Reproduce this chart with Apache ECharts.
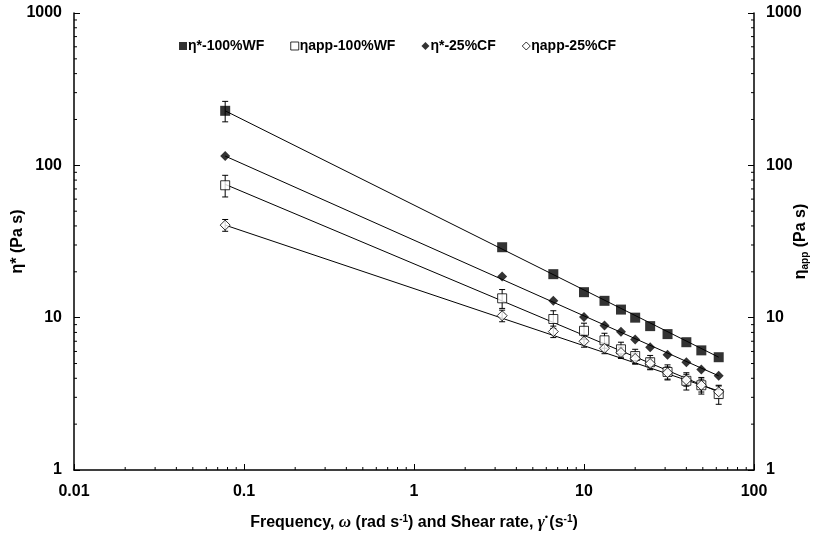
<!DOCTYPE html>
<html>
<head>
<meta charset="utf-8">
<script src="https://cdn.jsdelivr.net/npm/echarts@6/dist/echarts.min.js"></script>
<style>
  html, body { margin: 0; padding: 0; background: #fff; }
  #chart { width: 816px; height: 540px; }
</style>
</head>
<body>
<div id="chart"></div>
<script>
// 频率 / 剪切速率 (rad/s, 1/s)
var freq = [0.0775, 3.3, 6.6, 10, 13.2, 16.5, 20, 24.5, 31, 40, 49, 62];

// 粘度数据 (Pa s)
var etaStarWF = [228, 29.0, 19.3, 14.7, 12.9, 11.3, 10.0, 8.8, 7.8, 6.9, 6.1, 5.5];
var etaAppWF  = [74, 13.4, 9.8, 8.2, 7.1, 6.2, 5.6, 5.1, 4.4, 3.85, 3.6, 3.15];
var etaStarCF = [115, 18.6, 12.9, 10.1, 8.9, 8.07, 7.2, 6.4, 5.7, 5.1, 4.57, 4.15];
var etaAppCF  = [40.5, 10.3, 8.1, 7.0, 6.3, 5.9, 5.4, 5.0, 4.35, 3.9, 3.6, 3.26];

// 误差 (±)
var errStarWF = [35, 0, 0, 0, 0, 0, 0, 0, 0, 0, 0, 0];
var errAppWF  = [12, 1.9, 1.3, 1.0, 0.8, 0.7, 0.6, 0.55, 0.5, 0.5, 0.45, 0.45];
var errAppCF  = [3.6, 0.9, 0.7, 0.6, 0.5, 0.5, 0.45, 0.4, 0.4, 0.35, 0.35, 0.3];

// 趋势线端点 (幂律拟合)
var fitX      = [0.0775, 62];
var fitStarWF = [228, 5.5];
var fitAppWF  = [75, 3.25];
var fitStarCF = [115, 4.15];
var fitAppCF  = [40.5, 3.3];

var names = ['η*-100%WF', 'ηapp-100%WF', 'η*-25%CF', 'ηapp-25%CF'];
var xTicks = [0.01, 0.1, 1, 10, 100];
var yTicks = [1, 10, 100, 1000];
var minorSteps = [2, 3, 4, 5, 6, 7, 8, 9];

var FONT = '"Liberation Sans", Arial, sans-serif';

function pairs(xs, ys) {
  return xs.map(function (x, i) { return [x, ys[i]]; });
}

// 误差棒数据
function errData(ys, errs) {
  var out = [];
  freq.forEach(function (x, i) {
    if (errs[i] > 0) out.push([x, ys[i], ys[i] - errs[i], ys[i] + errs[i]]);
  });
  return out;
}

// 次刻度 (对数坐标 2..9)
var minorData = [];
for (var d = 0; d < xTicks.length - 1; d++) {
  minorSteps.forEach(function (m) { minorData.push([xTicks[d] * m, 1, 0]); });
}
for (var e = 0; e < yTicks.length - 1; e++) {
  minorSteps.forEach(function (m) {
    minorData.push([0.01, yTicks[e] * m, 1]);
    minorData.push([100, yTicks[e] * m, 2]);
  });
}

var chart = echarts.init(document.getElementById('chart'));

var labelStyle = {
  color: '#000', fontWeight: 'bold', fontSize: 16, fontFamily: FONT,
  formatter: function (v) { return String(v); }
};

function errSeries(ys, errs) {
  return {
    type: 'custom',
    z: 3,
    silent: true,
    data: errData(ys, errs),
    renderItem: function (params, api) {
      var x = api.value(0);
      var lo = api.coord([x, api.value(2)]);
      var hi = api.coord([x, api.value(3)]);
      var w = 3;
      var st = { stroke: '#000', lineWidth: 1 };
      return {
        type: 'group',
        children: [
          { type: 'line', shape: { x1: lo[0], y1: lo[1], x2: hi[0], y2: hi[1] }, style: st },
          { type: 'line', shape: { x1: lo[0] - w, y1: lo[1], x2: lo[0] + w, y2: lo[1] }, style: st },
          { type: 'line', shape: { x1: hi[0] - w, y1: hi[1], x2: hi[0] + w, y2: hi[1] }, style: st }
        ]
      };
    }
  };
}

function fitSeries(ys) {
  return {
    type: 'line',
    data: pairs(fitX, ys),
    symbol: 'none',
    silent: true,
    z: 2,
    lineStyle: { color: '#000', width: 1 }
  };
}

function markSeries(name, ys, symbol, size, filled) {
  return {
    name: name,
    type: 'scatter',
    data: pairs(freq, ys),
    symbol: symbol,
    symbolSize: size,
    z: 5,
    itemStyle: filled
      ? { color: '#000', borderColor: '#000', borderWidth: 0 }
      : { color: '#fff', borderColor: '#000', borderWidth: 1 }
  };
}

var option = {
  animation: false,
  backgroundColor: '#fff',
  grid: { left: 74, right: 62, top: 13, bottom: 70, outerBoundsMode: 'none' },
  legend: {
    left: 174,
    top: 34,
    itemWidth: 8,
    itemHeight: 8,
    itemGap: 26,
    textStyle: { color: '#000', fontWeight: 'bold', fontSize: 14, fontFamily: FONT, padding: [0, 0, 0, -4] },
    data: [
      { name: names[0], icon: 'rect', itemStyle: { color: '#000', borderWidth: 0 } },
      { name: names[1], icon: 'rect', itemStyle: { color: '#fff', borderColor: '#000', borderWidth: 1 } },
      { name: names[2], icon: 'diamond', itemStyle: { color: '#000', borderWidth: 0 } },
      { name: names[3], icon: 'diamond', itemStyle: { color: '#fff', borderColor: '#000', borderWidth: 1 } }
    ]
  },
  xAxis: {
    type: 'log',
    logBase: 10,
    min: 0.01,
    max: 100,
    axisLine: { show: true, lineStyle: { color: '#000', width: 1.5 } },
    axisTick: { show: true, inside: true, length: 6, lineStyle: { color: '#000', width: 1 } },
    splitLine: { show: false },
    axisLabel: Object.assign({ margin: 14 }, labelStyle),
    name: '{t|Frequency, }{w|ω}{t| (rad s}{s|-1}{t|) and Shear rate, }{w|γ̇}{t| (s}{s|-1}{t|)}',
    nameLocation: 'middle',
    nameGap: 44,
    nameMoveOverlap: false,
    nameTextStyle: {
      rich: {
        t: { fontWeight: 'bold', fontSize: 16, fontFamily: FONT, color: '#000', lineHeight: 18 },
        w: { fontWeight: 'bold', fontStyle: 'italic', fontSize: 17, fontFamily: '"Liberation Serif", serif', color: '#000', lineHeight: 18 },
        s: { fontWeight: 'bold', fontSize: 10, fontFamily: FONT, color: '#000', lineHeight: 18, verticalAlign: 'top', padding: [0, 0, 7, 0] }
      }
    }
  },
  yAxis: [
    {
      type: 'log',
      logBase: 10,
      min: 1,
      max: 1000,
      position: 'left',
      axisLine: { show: true, lineStyle: { color: '#000', width: 1.5 } },
      axisTick: { show: true, inside: true, length: 6, lineStyle: { color: '#000', width: 1 } },
      splitLine: { show: false },
      axisLabel: Object.assign({ margin: 12 }, labelStyle),
      name: 'η* (Pa s)',
      nameLocation: 'middle',
      nameGap: 48,
      nameRotate: 90,
      nameMoveOverlap: false,
      nameTextStyle: { color: '#000', fontWeight: 'bold', fontSize: 16, fontFamily: FONT }
    },
    {
      type: 'log',
      logBase: 10,
      min: 1,
      max: 1000,
      position: 'right',
      axisLine: { show: true, lineStyle: { color: '#000', width: 1.5 } },
      axisTick: { show: true, inside: true, length: 6, lineStyle: { color: '#000', width: 1 } },
      splitLine: { show: false },
      axisLabel: Object.assign({ margin: 12 }, labelStyle),
      name: '{t|η}{s|app}{t| (Pa s)}',
      nameLocation: 'middle',
      nameGap: 38,
      nameRotate: 90,
      nameMoveOverlap: false,
      nameTextStyle: {
        rich: {
          t: { fontWeight: 'bold', fontSize: 16, fontFamily: FONT, color: '#000', lineHeight: 18 },
          s: { fontWeight: 'bold', fontSize: 10, fontFamily: FONT, color: '#000', lineHeight: 18, verticalAlign: 'bottom', padding: [7, 0, 0, 0] }
        }
      }
    }
  ],
  series: [
    fitSeries(fitStarWF),
    fitSeries(fitAppWF),
    fitSeries(fitStarCF),
    fitSeries(fitAppCF),
    errSeries(etaStarWF, errStarWF),
    errSeries(etaAppWF, errAppWF),
    errSeries(etaAppCF, errAppCF),
    markSeries(names[0], etaStarWF, 'rect', 10, true),
    markSeries(names[1], etaAppWF, 'rect', 9, false),
    markSeries(names[2], etaStarCF, 'diamond', 10, true),
    markSeries(names[3], etaAppCF, 'diamond', 10, false),
    {
      // 次刻度
      type: 'custom',
      silent: true,
      clip: false,
      z: 1,
      data: minorData,
      renderItem: function (params, api) {
        var p = api.coord([api.value(0), api.value(1)]);
        var side = api.value(2);
        var len = 3;
        var shape;
        if (side === 0) shape = { x1: p[0], y1: p[1], x2: p[0], y2: p[1] - len };
        else if (side === 1) shape = { x1: p[0], y1: p[1], x2: p[0] + len, y2: p[1] };
        else shape = { x1: p[0], y1: p[1], x2: p[0] - len, y2: p[1] };
        return { type: 'line', shape: shape, style: { stroke: '#000', lineWidth: 1 } };
      }
    }
  ]
};

chart.setOption(option);
</script>
</body>
</html>
